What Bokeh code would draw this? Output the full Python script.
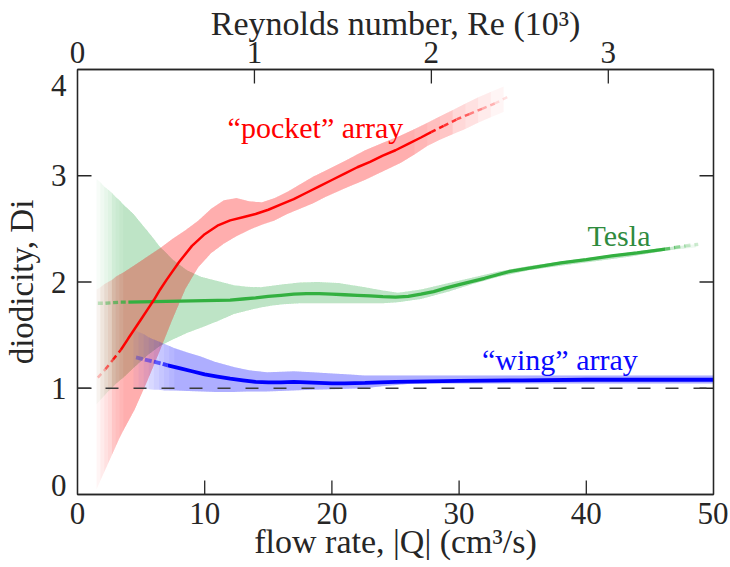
import numpy as np
from bokeh.plotting import figure
from bokeh.models import Range1d, LinearAxis, FixedTicker, Label, Span, CustomJSTickFormatter
from bokeh.embed import file_html
from bokeh.resources import INLINE

# ---------------- data ----------------
q_ticks = [0, 10, 20, 30, 40, 50]
di_ticks = [0, 1, 2, 3, 4]
re_ticks = [0, 1, 2, 3]
q_per_kre = 13.91          # flow rate (cm3/s) per 1000 Reynolds number
di_ref = 1.0               # no diodicity

# "pocket" array (red)
pocket_band_q = [1.5, 1.8, 2.1, 2.4, 2.7, 3.0, 3.3, 3.6, 4.5, 5.5, 6.5, 7.5, 8.5, 9.5, 10.5, 11.5,
                 12.5, 13.5, 14.5, 15.5, 16.5, 17.5, 18.5, 19.5, 21.0, 22.6, 24.0, 25.4, 26.5,
                 27.5, 28.5, 29.5, 30.5, 31.5, 32.5, 33.5]
pocket_band_hi = [1.93, 1.95, 1.98, 2.00, 2.02, 2.05, 2.07, 2.09, 2.16, 2.24, 2.32, 2.41, 2.49, 2.58,
                  2.69, 2.77, 2.79, 2.76, 2.75, 2.79, 2.85, 2.92, 2.99, 3.05, 3.14, 3.24, 3.31, 3.38,
                  3.44, 3.50, 3.56, 3.62, 3.68, 3.74, 3.79, 3.84]
pocket_band_lo = [0.05, 0.13, 0.21, 0.29, 0.37, 0.45, 0.53, 0.60, 0.80, 1.07, 1.36, 1.66, 1.94, 2.14,
                  2.27, 2.36, 2.43, 2.49, 2.54, 2.58, 2.64, 2.69, 2.74, 2.80, 2.88, 2.96, 3.04, 3.12,
                  3.20, 3.28, 3.34, 3.39, 3.44, 3.50, 3.55, 3.60]
pocket_q = [1.6, 2.2, 2.8, 3.4, 4.0, 4.5, 5.0, 5.5, 6.0, 6.5, 7.0, 8.0, 9.0, 10.0, 11.0, 12.0, 13.0,
            14.0, 15.0, 16.0, 17.0, 18.0, 19.0, 20.0, 21.0, 22.0, 23.0, 24.0, 25.0, 26.0, 27.0, 27.8,
            28.8, 29.8, 30.8, 31.8, 32.8, 33.8]
pocket_di = [1.10, 1.18, 1.27, 1.36, 1.47, 1.56, 1.65, 1.74, 1.83, 1.93, 2.02, 2.19, 2.34, 2.45, 2.53,
             2.58, 2.61, 2.64, 2.68, 2.73, 2.78, 2.84, 2.90, 2.96, 3.02, 3.08, 3.13, 3.19, 3.24, 3.30,
             3.36, 3.41, 3.47, 3.53, 3.58, 3.63, 3.68, 3.74]

# Tesla (green)
tesla_band_q = [1.5, 1.8, 2.1, 2.4, 2.7, 3.0, 3.3, 3.6, 4.4, 5.5, 6.5, 7.5, 8.6, 9.7, 11.0, 12.3, 13.3,
                14.4, 15.3, 16.2, 17.5, 18.9, 20.5, 22.6, 24.0, 25.2, 27.0, 29.2, 31.0, 33.1, 35.5,
                38.4, 41.0, 43.5, 46.2, 47.0, 47.8, 48.6]
tesla_band_hi = [2.97, 2.94, 2.90, 2.87, 2.84, 2.80, 2.77, 2.73, 2.64, 2.48, 2.33, 2.21, 2.11, 2.05,
                 2.01, 1.97, 1.955, 1.95, 1.965, 1.98, 1.995, 2.00, 1.99, 1.95, 1.92, 1.90, 1.93, 1.99,
                 2.04, 2.10, 2.15, 2.20, 2.24, 2.28, 2.325, 2.335, 2.345, 2.355]
tesla_band_lo = [0.85, 0.89, 0.93, 0.97, 1.00, 1.04, 1.07, 1.10, 1.19, 1.31, 1.40, 1.46, 1.52, 1.57,
                 1.63, 1.70, 1.73, 1.76, 1.78, 1.79, 1.80, 1.80, 1.80, 1.80, 1.80, 1.81, 1.84, 1.91,
                 1.98, 2.05, 2.11, 2.16, 2.20, 2.24, 2.295, 2.305, 2.315, 2.325]
tesla_q = [1.6, 2.2, 2.8, 3.4, 4.0, 6.0, 8.0, 10.0, 12.0, 13.0, 14.0, 15.0, 16.0, 17.0, 18.0, 19.0,
           20.0, 21.0, 22.0, 23.0, 24.0, 25.0, 26.0, 27.0, 28.0, 29.0, 30.0, 32.0, 34.0, 36.0, 38.0,
           40.0, 42.0, 44.0, 46.2, 47.0, 47.8, 48.8]
tesla_di = [1.80, 1.80, 1.805, 1.81, 1.81, 1.815, 1.82, 1.825, 1.83, 1.84, 1.85, 1.865, 1.875, 1.885,
            1.89, 1.89, 1.885, 1.88, 1.875, 1.87, 1.862, 1.857, 1.865, 1.885, 1.91, 1.945, 1.975,
            2.035, 2.10, 2.14, 2.18, 2.21, 2.245, 2.275, 2.31, 2.325, 2.34, 2.355]

# "wing" array (blue)
wing_band_q = [4.4, 4.8, 5.2, 5.6, 6.0, 6.4, 6.8, 7.2, 7.6, 8.6, 9.7, 10.8, 12.3, 13.5, 14.9, 16.0,
               17.0, 18.5, 20.1, 21.5, 22.6, 24.0, 26.0, 28.0, 30.0, 35.0, 40.0, 45.0, 50.0]
wing_band_hi = [1.56, 1.53, 1.51, 1.48, 1.46, 1.44, 1.42, 1.40, 1.38, 1.34, 1.30, 1.25, 1.20, 1.17,
                1.15, 1.155, 1.16, 1.15, 1.14, 1.13, 1.12, 1.12, 1.12, 1.12, 1.12, 1.12, 1.12,
                1.12, 1.12]
wing_band_lo = [1.00, 0.995, 0.99, 0.99, 0.985, 0.985, 0.98, 0.98, 0.98, 0.975, 0.97, 0.965, 0.965,
                0.97, 0.97, 0.975, 0.98, 0.985, 0.99, 0.995, 1.00, 1.02, 1.04, 1.045, 1.045, 1.045,
                1.045, 1.045, 1.045]
wing_q = [4.6, 5.3, 6.0, 6.7, 7.1, 8.0, 9.0, 10.0, 11.0, 12.0, 13.0, 14.0, 15.0, 16.0, 17.0, 18.0,
          19.0, 20.0, 21.0, 22.6, 25.0, 30.0, 35.0, 40.0, 45.0, 50.0]
wing_di = [1.29, 1.27, 1.25, 1.23, 1.215, 1.19, 1.16, 1.13, 1.11, 1.09, 1.075, 1.06, 1.055, 1.055,
           1.06, 1.055, 1.05, 1.045, 1.045, 1.05, 1.06, 1.07, 1.075, 1.08, 1.08, 1.08]

# ---------------- style ----------------
FONT = "Liberation Serif"
AX = "#262626"
RED, GREEN, BLUE = "#ff0000", "#33b040", "#0000ff"

p = figure(width=728, height=567, x_range=Range1d(q_ticks[0], q_ticks[-1]),
           y_range=Range1d(di_ticks[0], di_ticks[-1]),
           output_backend="svg", toolbar_location=None,
           min_border_left=77, min_border_right=15, min_border_top=69, min_border_bottom=73)
p.extra_x_ranges = {"re": Range1d(q_ticks[0] / q_per_kre, q_ticks[-1] / q_per_kre)}
p.xgrid.visible = False
p.ygrid.visible = False
p.outline_line_color = AX
p.outline_line_width = 1.3
p.background_fill_color = "white"


def style_axis(ax, label_size):
    ax.axis_line_color = AX
    ax.axis_line_width = 1.3
    ax.major_tick_line_color = None
    ax.major_tick_in = 0
    ax.major_tick_out = 0
    ax.minor_tick_line_color = None
    ax.major_label_text_font = FONT
    ax.major_label_text_font_size = "31px"
    ax.major_label_text_color = AX
    ax.axis_label_text_font = FONT
    ax.axis_label_text_font_size = label_size
    ax.axis_label_text_font_style = "normal"
    ax.axis_label_text_color = AX


xb = p.xaxis[0]
xb.ticker = FixedTicker(ticks=q_ticks)
xb.axis_label = "flow rate, |Q| (cm³/s)"
style_axis(xb, "34px")
xb.major_label_standoff = 8
xb.axis_label_standoff = -4

# left axis: the end labels (0 and 4) are nudged inside the frame, as in the original
yl = p.yaxis[0]
yl.ticker = FixedTicker(ticks=[di_ticks[0] + 0.085] + di_ticks[1:-1] + [di_ticks[-1] - 0.15])
yl.formatter = CustomJSTickFormatter(code="return Math.round(tick).toString()")
yl.axis_label = "diodicity, Di"
style_axis(yl, "33px")
yl.major_label_standoff = 11
yl.axis_label_standoff = 8

xt = LinearAxis(x_range_name="re", ticker=FixedTicker(ticks=re_ticks),
                axis_label="Reynolds number, Re (10³)")
style_axis(xt, "34px")
xt.major_label_standoff = 7
xt.axis_label_standoff = -3
p.add_layout(xt, "above")

yr = LinearAxis(ticker=FixedTicker(ticks=di_ticks), formatter=CustomJSTickFormatter(code="return ''"))
style_axis(yr, "10px")
yr.major_label_standoff = 0
p.add_layout(yr, "right")

# inward ticks (the frame clips the outer half of each dash)
TICK = dict(marker="dash", size=28, line_color=AX, line_width=1.3)
p.scatter(x=q_ticks[1:-1], y=[di_ticks[0]] * (len(q_ticks) - 2), angle=np.pi / 2, **TICK)
p.scatter(x=[r * q_per_kre for r in re_ticks[1:]], y=[di_ticks[-1]] * (len(re_ticks) - 1),
          angle=np.pi / 2, **TICK)
p.scatter(x=[q_ticks[0]] * (len(di_ticks) - 2), y=di_ticks[1:-1], **TICK)
p.scatter(x=[q_ticks[-1]] * (len(di_ticks) - 2), y=di_ticks[1:-1], **TICK)


def band(q, lo, hi, color, alpha, fade_in=None, fade_out=None, n=9):
    """Band drawn as n stacked translucent layers, so its ends fade out smoothly."""
    q = np.asarray(q, float); lo = np.asarray(lo, float); hi = np.asarray(hi, float)
    N = len(q)
    idx_in = [i for i in range(N) if fade_in and fade_in[0] - 1e-9 <= q[i] <= fade_in[1] + 1e-9] or [0]
    idx_out = [i for i in range(N) if fade_out and fade_out[0] - 1e-9 <= q[i] <= fade_out[1] + 1e-9] or [N - 1]
    a1 = 1 - (1 - alpha) ** (1.0 / n)
    xs, ys = [], []
    for k in range(n):
        t = k / (n - 1)
        a = idx_in[int(round(t * (len(idx_in) - 1)))]
        b = idx_out[len(idx_out) - 1 - int(round(t * (len(idx_out) - 1)))]
        xs.append(list(q[a:b + 1]) + list(q[a:b + 1][::-1]))
        ys.append(list(lo[a:b + 1]) + list(hi[a:b + 1][::-1]))
    p.patches(xs=xs, ys=ys, fill_color=color, fill_alpha=a1, line_color=None)


def curve(q, d, color, width, solid, a_in=(0.25, 0.9), a_out=(0.9, 0.15), dash="5 4"):
    q = np.asarray(q, float); d = np.asarray(d, float)
    m = (q >= solid[0] - 1e-9) & (q <= solid[1] + 1e-9)
    p.line(q[m], d[m], line_color=color, line_width=width)
    left = [i for i in range(len(q) - 1) if q[i + 1] <= solid[0] + 1e-9]
    right = [i for i in range(len(q) - 1) if q[i] >= solid[1] - 1e-9]
    xs, ys, al = [], [], []
    for k, i in enumerate(left):
        t = k / max(1, len(left) - 1)
        xs.append([q[i], q[i + 1]]); ys.append([d[i], d[i + 1]])
        al.append(a_in[0] + (a_in[1] - a_in[0]) * t)
    for k, i in enumerate(right):
        t = k / max(1, len(right) - 1)
        xs.append([q[i], q[i + 1]]); ys.append([d[i], d[i + 1]])
        al.append(a_out[0] + (a_out[1] - a_out[0]) * t)
    if xs:
        p.multi_line(xs=xs, ys=ys, line_color=color, line_alpha=al, line_width=width, line_dash=dash)


band(tesla_band_q, tesla_band_lo, tesla_band_hi, GREEN, 0.30, fade_in=(1.5, 3.6), fade_out=(46.2, 48.6))
band(pocket_band_q, pocket_band_lo, pocket_band_hi, RED, 0.31, fade_in=(1.5, 3.6), fade_out=(26.5, 33.5))
band(wing_band_q, wing_band_lo, wing_band_hi, BLUE, 0.30, fade_in=(4.4, 7.6))

p.add_layout(Span(location=di_ref, dimension="width", line_color="#3c3c3c", line_width=1.4,
                  line_dash="13 15"))

curve(tesla_q, tesla_di, GREEN, 3.3, (4.0, 46.2), a_in=(0.3, 0.8), a_out=(0.7, 0.25))
curve(pocket_q, pocket_di, RED, 2.5, (3.4, 27.8), a_in=(0.25, 0.9), a_out=(0.9, 0.12))
curve(wing_q, wing_di, BLUE, 3.8, (7.1, 50.0), a_in=(0.3, 0.7), dash="7 4")

for txt, x, y, col in [("“pocket” array", 11.8, 3.454, RED),
                       ("Tesla", 40.1, 2.44, "#2e8b3e"),
                       ("“wing” array", 31.8, 1.27, "#0a0aff")]:
    p.add_layout(Label(x=x, y=y, text=txt, text_color=col, text_font=FONT,
                       text_font_size="30px", text_baseline="alphabetic"))

open("out.html", "w").write(file_html(p, INLINE))
